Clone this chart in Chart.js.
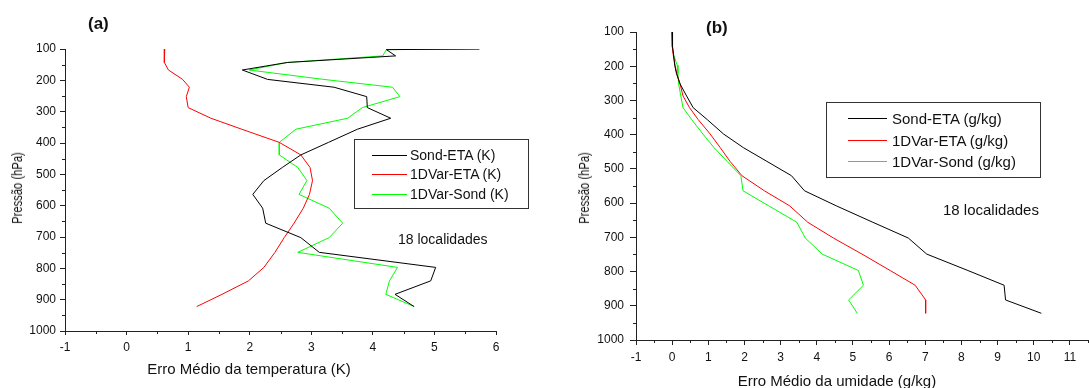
<!DOCTYPE html>
<html>
<head>
<meta charset="utf-8">
<script src="https://cdn.jsdelivr.net/npm/chart.js@4/dist/chart.umd.min.js"></script>
<style>
  body { margin: 0; background: #fff; width: 1089px; height: 388px; overflow: hidden; position: relative;
         font-family: "Liberation Sans", Arial, sans-serif; color: #111; }
  canvas { position: absolute; top: 0; }
  .txt { position: absolute; white-space: nowrap; }
  .vtxt { position: absolute; white-space: nowrap; transform: translate(-50%, -50%) rotate(-90deg) scaleX(0.8); }
  .legend { position: absolute; border: 1px solid #333; box-sizing: border-box; background: #fff; }
  .legend .row { position: absolute; white-space: nowrap; }
  .legend .swatch { position: absolute; height: 0; border-top: 1px solid; }
</style>
</head>
<body>
<canvas id="chartA" width="545" height="388" style="left:0"></canvas>
<canvas id="chartB" width="544" height="388" style="left:545px"></canvas>
<script>
// niveis de pressao (hPa)
const pressure = [100, 102, 122, 143, 167, 197, 222, 252, 287, 321, 356, 398, 438, 478, 520, 564, 608, 656, 702, 749, 797, 840, 883, 922];

// (a) erro medio da temperatura (K)
const sondEtaT = [5.73, 4.22, 4.37, 2.61, 1.88, 2.29, 3.37, 3.90, 3.91, 4.29, 3.75, 3.28, 2.83, 2.53, 2.23, 2.05, 2.21, 2.26, 2.83, 3.13, 5.02, 4.94, 4.36, 4.67];
const varEtaT = [0.62, 0.62, 0.61, 0.61, 0.68, 0.91, 1.02, 0.97, 1.00, 1.37, 1.87, 2.48, 2.83, 2.98, 3.02, 2.97, 2.87, 2.72, 2.56, 2.41, 2.23, 1.98, 1.55, 1.14];
const varSondT = [5.73, 4.22, 4.16, 2.61, 1.99, 3.20, 4.32, 4.44, 3.83, 3.59, 2.75, 2.48, 2.48, 2.78, 2.93, 2.80, 3.29, 3.51, 3.29, 2.78, 4.40, 4.27, 4.21, 4.67];

// (b) erro medio da umidade (g/kg)
const sondEtaQ = [0.0, 0.0, 0.01, 0.02, 0.04, 0.07, 0.12, 0.22, 0.40, 0.58, 0.97, 1.42, 1.97, 2.62, 3.30, 3.66, 4.54, 5.55, 6.53, 7.04, 8.18, 9.18, 9.22, 10.21];
const varEtaQ = [0.0, 0.0, 0.0, 0.01, 0.03, 0.08, 0.13, 0.22, 0.30, 0.48, 0.72, 1.05, 1.33, 1.60, 1.93, 2.55, 3.25, 3.75, 4.46, 5.25, 6.03, 6.72, 7.01, 7.01];
const varSondQ = [0.0, 0.0, 0.01, 0.02, 0.04, 0.14, 0.16, 0.18, 0.24, 0.30, 0.54, 0.85, 1.16, 1.52, 1.90, 1.96, 2.67, 3.45, 3.68, 4.15, 5.15, 5.29, 4.88, 5.12];

const labelsA = ["Sond-ETA (K)", "1DVar-ETA (K)", "1DVar-Sond (K)"];
const labelsB = ["Sond-ETA (g/kg)", "1DVar-ETA (g/kg)", "1DVar-Sond (g/kg)"];
const colors = ["#000000", "#ff0000", "#00ff00"];

// ticks
const yTicks = [100, 200, 300, 400, 500, 600, 700, 800, 900, 1000];
const yMinor = [150, 250, 350, 450, 550, 650, 750, 850, 950];
const xTicksA = [-1, 0, 1, 2, 3, 4, 5, 6];
const xMinorA = [-0.5, 0.5, 1.5, 2.5, 3.5, 4.5, 5.5];
const xTicksB = [-1, 0, 1, 2, 3, 4, 5, 6, 7, 8, 9, 10, 11];
const xMinorB = [-0.5, 0.5, 1.5, 2.5, 3.5, 4.5, 5.5, 6.5, 7.5, 8.5, 9.5, 10.5, 11.5];

// kleine streepjes tussen de hoofdticks
const minorTicks = {
  id: "minorTicks",
  afterDraw(chart, args, opts) {
    const { ctx, scales } = chart;
    const x = scales.x, y = scales.y;
    ctx.save();
    ctx.strokeStyle = "#222";
    ctx.lineWidth = 1;
    ctx.beginPath();
    opts.x.forEach((v) => {
      const px = Math.round(x.getPixelForValue(v)) + 0.5;
      ctx.moveTo(px, x.top);
      ctx.lineTo(px, x.top + opts.len);
    });
    opts.y.forEach((v) => {
      const py = Math.round(y.getPixelForValue(v)) + 0.5;
      ctx.moveTo(y.right, py);
      ctx.lineTo(y.right - opts.len, py);
    });
    ctx.stroke();
    ctx.restore();
  },
};

function makeDatasets(labels, series) {
  return series.map((vals, i) => ({
    label: labels[i],
    data: pressure.map((p, k) => ({ x: vals[k], y: p })),
    showLine: true,
    borderColor: colors[i],
    backgroundColor: colors[i],
    borderWidth: 1,
    pointRadius: 0,
    tension: 0,
  }));
}

function makeChart(id, cfg) {
  return new Chart(document.getElementById(id), {
    type: "scatter",
    data: { datasets: makeDatasets(cfg.labels, cfg.series) },
    options: {
      responsive: false,
      animation: false,
      events: [],
      layout: { padding: cfg.padding },
      plugins: {
        legend: { display: false },
        tooltip: { enabled: false },
        minorTicks: { x: cfg.xMinor, y: yMinor, len: 3 },
      },
      scales: {
        x: {
          type: "linear",
          min: cfg.xMin,
          max: cfg.xMax,
          afterBuildTicks: (s) => { s.ticks = cfg.xTicks.map((v) => ({ value: v })); },
          afterFit: (s) => { s.height = cfg.xHeight; },
          grid: { drawOnChartArea: false, tickLength: cfg.xTickLen, tickColor: "#222" },
          border: { display: true, color: "#222", width: 1 },
          ticks: { color: "#111", padding: 5, maxRotation: 0, font: { size: cfg.tickFont }, callback: (v) => String(v) },
        },
        y: {
          type: "linear",
          reverse: true,
          min: 100,
          max: 1000,
          afterBuildTicks: (s) => { s.ticks = yTicks.map((v) => ({ value: v })); },
          afterFit: (s) => { s.width = cfg.yWidth; },
          grid: { drawOnChartArea: false, tickLength: cfg.yTickLen, tickColor: "#222" },
          border: { display: true, color: "#222", width: 1 },
          ticks: { color: "#111", padding: cfg.yPad, font: { size: cfg.tickFont }, callback: (v) => String(v) },
        },
      },
    },
    plugins: [minorTicks],
  });
}

Chart.defaults.font.family = '"Liberation Sans", Arial, sans-serif';

const chartA = makeChart("chartA", {
  labels: labelsA,
  series: [sondEtaT, varEtaT, varSondT],
  padding: { top: 49, right: 49, left: 0, bottom: 0 },
  xMin: -1, xMax: 6, xTicks: xTicksA, xMinor: xMinorA,
  xHeight: 57, yWidth: 65, xTickLen: 4, yTickLen: 5, yPad: 4,
  tickFont: 12,
});

const chartB = makeChart("chartB", {
  labels: labelsB,
  series: [sondEtaQ, varEtaQ, varSondQ],
  padding: { top: 32, right: 1, left: 0, bottom: 0 },
  xMin: -1, xMax: 11.5, xTicks: xTicksB, xMinor: xMinorB,
  xHeight: 48, yWidth: 91, xTickLen: 5, yTickLen: 6, yPad: 6,
  tickFont: 12,
});

// tekst op de pagina
function addText(text, x, cy, size, opts = {}) {
  const el = document.createElement("div");
  el.className = opts.vertical ? "vtxt" : "txt";
  el.textContent = text;
  el.style.fontSize = size + "px";
  el.style.lineHeight = size + "px";
  if (opts.vertical) {
    el.style.top = cy + "px";
  } else {
    el.style.top = cy - size / 2 + "px";
  }
  el.style.left = x + "px";
  if (opts.bold) el.style.fontWeight = "bold";
  if (opts.center) el.style.transform = "translateX(-50%)";
  document.body.appendChild(el);
}

// legenda in een kader, opgebouwd uit de datasets
function addLegend(chart, box) {
  const el = document.createElement("div");
  el.className = "legend";
  Object.assign(el.style, {
    left: box.left + "px", top: box.top + "px",
    width: box.width + "px", height: box.height + "px",
  });
  chart.data.datasets.forEach((ds, i) => {
    const cy = box.rows[i];
    const sw = document.createElement("div");
    sw.className = "swatch";
    Object.assign(sw.style, {
      left: box.lineX + "px", width: box.lineW + "px", top: cy + "px", borderTopColor: ds.borderColor,
    });
    const row = document.createElement("div");
    row.className = "row";
    row.textContent = ds.label;
    Object.assign(row.style, {
      left: box.textX + "px", top: cy - box.font / 2 + "px",
      fontSize: box.font + "px", lineHeight: box.font + "px",
    });
    el.appendChild(sw);
    el.appendChild(row);
  });
  document.body.appendChild(el);
}

addText("(a)", 88, 23, 17, { bold: true });
addText("(b)", 706, 27, 17, { bold: true });
addText("Erro Médio da temperatura (K)", 249, 368, 15, { center: true });
addText("Erro Médio da umidade (g/kg)", 837, 380, 15, { center: true });
addText("Pressão (hPa)", 17, 188, 14, { vertical: true });
addText("Pressão (hPa)", 584, 188, 14, { vertical: true });
addText("18 localidades", 398, 239, 14);
addText("18 localidades", 943, 209, 15);

addLegend(chartA, { left: 354, top: 139, width: 175, height: 70, rows: [15, 34, 54], lineX: 17, lineW: 35, textX: 55, font: 14 });
addLegend(chartB, { left: 826, top: 102, width: 215, height: 76, rows: [15, 37, 58], lineX: 21, lineW: 39, textX: 65, font: 15 });
</script>
</body>
</html>
